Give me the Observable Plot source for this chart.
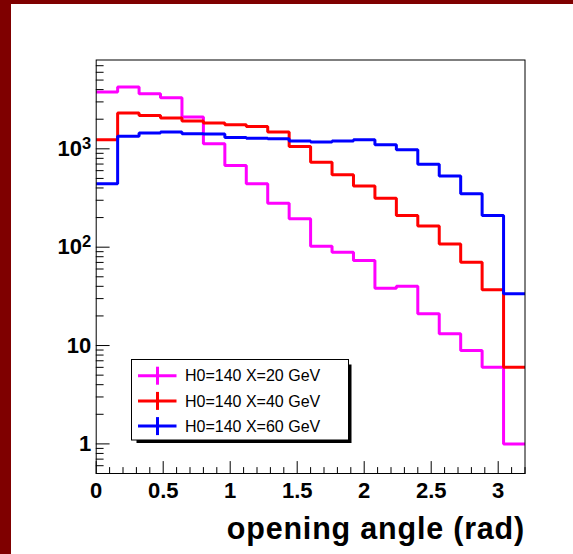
<!DOCTYPE html>
<html><head><meta charset="utf-8">
<script src="https://cdn.jsdelivr.net/npm/d3@7"></script>
<script src="https://cdn.jsdelivr.net/npm/@observablehq/plot@0.6"></script>
<style>
html,body{margin:0;padding:0;background:#fff;}
#wrap{position:relative;width:573px;height:554px;overflow:hidden;background:#fff;}
#wrap .bl{position:absolute;left:0;top:0;width:11px;height:554px;background:#7f0000;}
#wrap .bt{position:absolute;left:0;top:0;width:573px;height:4px;background:#7f0000;}
#wrap svg{position:absolute;left:0;top:0;}
.xlabel text{letter-spacing:0.8px;}
</style></head><body><div id="wrap"><div class="bl"></div><div class="bt"></div></div>
<script>
// histogram binning
const binLow = 0, binHigh = 3.2, nBins = 20;
// series
const seriesNames = ["H0=140 X=20 GeV", "H0=140 X=40 GeV", "H0=140 X=60 GeV"];
const seriesColors = ["#ff00ff", "#ff0000", "#0000ff"];
const countsX20 = [3776, 4245, 3630, 3305, 2103, 1124, 678, 442, 280, 194, 102, 89, 73.2, 38.3, 40.1, 21, 13.2, 8.9, 6.0, 1.0];
const countsX40 = [1238, 2307, 2188, 2052, 1914, 1828, 1758, 1690, 1479, 1058, 732, 545, 418, 315, 210, 164, 108, 70.4, 36.9, 6.0];
const countsX60 = [442, 1346, 1445, 1480, 1425, 1412, 1306, 1280, 1268, 1198, 1170, 1198, 1238, 1100, 979, 695, 530, 350, 210, 33.6];
// ticks
const xMajorTicks = [0, 0.5, 1, 1.5, 2, 2.5, 3];
const xTickLabels = ["0", "0.5", "1", "1.5", "2", "2.5", "3"];
const yMajorTicks = [1, 10, 100, 1000];
const yTickLabels = ["1", "10", "10^2", "10^3"];
const xLabel = "opening angle (rad)";
const yDomain = [0.5, 8000];

const allCounts = [countsX20, countsX40, countsX60];
const binWidth = (binHigh - binLow) / nBins;
const histRows = [];
allCounts.forEach((counts, s) => {
  counts.forEach((v, i) => histRows.push({series: seriesNames[s], x: binLow + i * binWidth, v}));
  histRows.push({series: seriesNames[s], x: binHigh, v: counts[counts.length - 1]});
});

const xMinor = d3.range(0, 32.5, 1).map(k => k / 10).filter(v => !xMajorTicks.some(t => Math.abs(t - v) < 1e-9));
const yMinor = [];
[0.1, 1, 10, 100, 1000].forEach(dec => { for (let m = 2; m <= 9; m++) { const v = m * dec; if (v > yDomain[0] && v < yDomain[1]) yMinor.push(v); } });

const tickShape = {draw(context, l) { context.moveTo(0, 0); context.lineTo(0, -l); }};
const FONT = "'Liberation Sans', Arial, Helvetica, sans-serif";

const chart = Plot.plot({
  width: 573, height: 554,
  marginLeft: 95.7, marginRight: 48.5, marginTop: 59.5, marginBottom: 81,
  style: {background: "transparent", fontFamily: FONT, color: "black"},
  x: {domain: [binLow, binHigh]},
  y: {type: "log", domain: yDomain},
  color: {domain: seriesNames, range: seriesColors},
  marks: [
    Plot.line(histRows, {x: "x", y: "v", z: "series", stroke: "series", curve: "step-after", strokeWidth: 3, strokeLinejoin: "miter", strokeLinecap: "butt"}),
    Plot.frame({stroke: "black", strokeWidth: 1}),
    Plot.vector(xMinor, {x: d => d, frameAnchor: "bottom", anchor: "start", length: 6, rotate: 0, shape: tickShape, stroke: "black", strokeWidth: 1}),
    Plot.vector(xMajorTicks, {x: d => d, frameAnchor: "bottom", anchor: "start", length: 12, rotate: 0, shape: tickShape, stroke: "black", strokeWidth: 1}),
    Plot.vector(yMinor, {y: d => d, frameAnchor: "left", anchor: "start", length: 7, rotate: 90, shape: tickShape, stroke: "black", strokeWidth: 1}),
    Plot.vector(yMajorTicks, {y: d => d, frameAnchor: "left", anchor: "start", length: 13, rotate: 90, shape: tickShape, stroke: "black", strokeWidth: 1}),
    Plot.axisX(xMajorTicks, {tickSize: 0, tickPadding: 9, tickFormat: d => xTickLabels[xMajorTicks.indexOf(d)], fontSize: 22, fontWeight: "bold", label: null}),
    Plot.axisY(yMajorTicks, {tickSize: 0, tickPadding: 5, tickFormat: d => yTickLabels[yMajorTicks.indexOf(d)], fontSize: 22, fontWeight: "bold", label: null}),
    Plot.text([xLabel], {text: d => d, frameAnchor: "bottom-right", textAnchor: "end", lineAnchor: "bottom", dy: 65, fontSize: 30.5, fontWeight: "bold", fill: "black", className: "xlabel"})
  ]
});
document.getElementById("wrap").appendChild(chart);

const svg = d3.select(chart);
// superscript exponents on y tick labels (10^n)
svg.selectAll("text").each(function() {
  const t = this.textContent;
  const m = /^10\^(\d+)$/.exec(t);
  if (m) {
    const el = d3.select(this);
    el.text("10");
    el.append("tspan").attr("dy", "-7").attr("font-size", 16.5).text(m[1]);
  }
});

// legend (ROOT TLegend style with shadow)
const lg = svg.append("g").attr("class", "legend");
const L = {x: 131.5, y: 359.5, w: 217, h: 80.5, shadow: 3};
lg.append("rect").attr("x", L.x + 5).attr("y", L.y + 5).attr("width", L.w - 5 + L.shadow).attr("height", L.h - 5 + L.shadow).attr("fill", "black");
lg.append("rect").attr("x", L.x).attr("y", L.y).attr("width", L.w).attr("height", L.h).attr("fill", "white").attr("stroke", "black").attr("stroke-width", 1);
seriesNames.forEach((name, i) => {
  const cy = L.y + 16.2 + i * 25.2;
  lg.append("line").attr("x1", L.x + 6.5).attr("x2", L.x + 45).attr("y1", cy).attr("y2", cy).attr("stroke", seriesColors[i]).attr("stroke-width", 3);
  lg.append("line").attr("x1", L.x + 26).attr("x2", L.x + 26).attr("y1", cy - 9).attr("y2", cy + 9).attr("stroke", seriesColors[i]).attr("stroke-width", 3);
  lg.append("text").attr("x", L.x + 53.5).attr("y", cy + 5.7).attr("font-size", 16).attr("fill", "black")
    .attr("text-anchor", "start").attr("font-family", FONT).text(name);
});
</script></body></html>
